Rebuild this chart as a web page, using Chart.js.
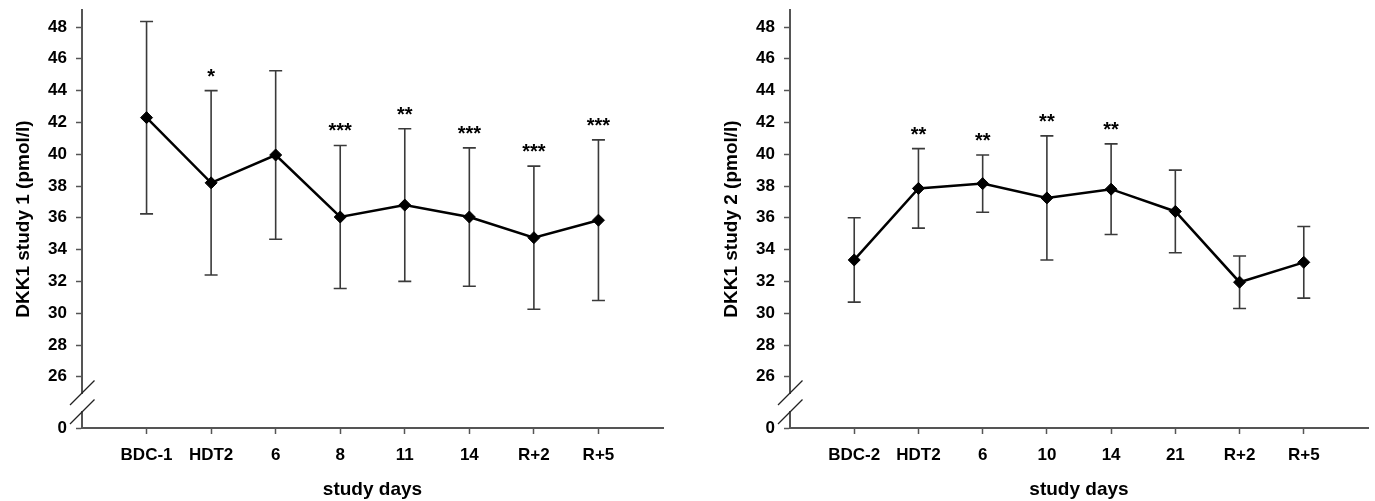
<!DOCTYPE html>
<html>
<head>
<meta charset="utf-8">
<script src="https://cdn.jsdelivr.net/npm/chart.js@4.4.0/dist/chart.umd.min.js"></script>
<style>
  body { margin: 0; background: #fff; }
  #wrap { position: relative; width: 1375px; height: 501px; }
  #c1 { position: absolute; left: 0; top: 0; }
  #c2 { position: absolute; left: 687px; top: 0; }
</style>
</head>
<body>
<div id="wrap">
  <canvas id="c1" width="687" height="501"></canvas>
  <canvas id="c2" width="688" height="501"></canvas>
</div>
<script>
// study 1
const days1 = ["BDC-1", "HDT2", "6", "8", "11", "14", "R+2", "R+5"];
const mean1 = [42.3, 38.2, 39.95, 36.05, 36.8, 36.05, 34.75, 35.85];
const sd1 = [6.05, 5.8, 5.3, 4.5, 4.8, 4.35, 4.5, 5.05];
const stars1 = ["", "*", "", "***", "**", "***", "***", "***"];

// study 2
const days2 = ["BDC-2", "HDT2", "6", "10", "14", "21", "R+2", "R+5"];
const mean2 = [33.35, 37.85, 38.15, 37.25, 37.8, 36.4, 31.95, 33.2];
const sd2 = [2.65, 2.5, 1.8, 3.9, 2.85, 2.6, 1.65, 2.25];
const stars2 = ["", "**", "**", "**", "**", "", "", ""];

const yTicks = [26, 28, 30, 32, 34, 36, 38, 40, 42, 44, 46, 48];
const breakLabel = "0";
const Y_MIN = 22.78;   // where the broken axis shows "0"
const Y_MAX = 49.07;

const FONT = "'Liberation Sans', Arial, sans-serif";
const AXIS_COL = "#555";

// error bars + stars, drawn with the chart's own scales
const errorBars = {
  id: "errorBars",
  beforeDatasetsDraw(chart, args, opts) {
    const { ctx, scales: { x, y } } = chart;
    ctx.save();
    ctx.strokeStyle = "#3a3a3a";
    ctx.lineWidth = 1.6;
    opts.mean.forEach((m, i) => {
      const px = x.getPixelForValue(i + 1);
      const top = y.getPixelForValue(m + opts.sd[i]);
      const bot = y.getPixelForValue(m - opts.sd[i]);
      ctx.beginPath();
      ctx.moveTo(px, top); ctx.lineTo(px, bot);
      ctx.moveTo(px - 6.5, top); ctx.lineTo(px + 6.5, top);
      ctx.moveTo(px - 6.5, bot); ctx.lineTo(px + 6.5, bot);
      ctx.stroke();
    });
    ctx.restore();
  },
  afterDatasetsDraw(chart, args, opts) {
    const { ctx, scales: { x, y } } = chart;
    ctx.save();
    ctx.font = "bold 20px " + FONT;
    ctx.fillStyle = "#000";
    ctx.textAlign = "center";
    ctx.textBaseline = "alphabetic";
    opts.stars.forEach((s, i) => {
      if (!s) return;
      const px = x.getPixelForValue(i + 1);
      const top = y.getPixelForValue(opts.mean[i] + opts.sd[i]);
      ctx.fillText(s, px, top - 8);
    });
    ctx.restore();
  }
};

// the // break on the y axis between 0 and 26
const axisBreak = {
  id: "axisBreak",
  afterDraw(chart) {
    const { ctx, scales: { x, y } } = chart;
    const ax = x.left;
    const bottom = y.bottom;
    const c1 = bottom - 35, c2 = bottom - 16;
    ctx.save();
    ctx.fillStyle = "#fff";
    ctx.fillRect(ax - 2, c1 + 1, 4, c2 - c1 - 2);
    ctx.strokeStyle = "#222";
    ctx.lineWidth = 1.3;
    [c1, c2].forEach(c => {
      ctx.beginPath();
      ctx.moveTo(ax - 12, c + 12);
      ctx.lineTo(ax + 12.5, c - 12.5);
      ctx.stroke();
    });
    ctx.restore();
  }
};

function makeChart(id, days, mean, sd, stars, title, yWidth, rightPad) {
  new Chart(document.getElementById(id), {
    type: "line",
    data: {
      datasets: [{
        data: mean.map((v, i) => ({ x: i + 1, y: v })),
        borderColor: "#000",
        borderWidth: 2.5,
        backgroundColor: "#000",
        pointStyle: "rectRot",
        pointRadius: 6,
        pointBorderWidth: 1,
        tension: 0
      }]
    },
    options: {
      responsive: false,
      animation: false,
      layout: { padding: { top: 0, right: rightPad, left: 0, bottom: 0 } },
      plugins: {
        legend: { display: false },
        tooltip: { enabled: false },
        errorBars: { mean, sd, stars }
      },
      scales: {
        x: {
          type: "linear",
          min: 0,
          max: days.length + 1,
          afterBuildTicks: s => { s.ticks = days.map((d, i) => ({ value: i + 1 })); },
          afterFit: s => { s.height = 73; },
          ticks: {
            autoSkip: false,
            maxRotation: 0,
            padding: 11,
            color: "#000",
            font: { family: FONT, size: 17, weight: "bold" },
            callback: v => days[v - 1]
          },
          grid: { drawOnChartArea: false, tickLength: 6, tickColor: AXIS_COL, tickWidth: 1.5 },
          border: { color: AXIS_COL, width: 2 },
          title: {
            display: true,
            text: "study days",
            color: "#000",
            font: { family: FONT, size: 19, weight: "bold" },
            padding: { top: 0, bottom: 0 }
          }
        },
        y: {
          min: Y_MIN,
          max: Y_MAX,
          afterBuildTicks: s => { s.ticks = [{ value: Y_MIN }].concat(yTicks.map(v => ({ value: v }))); },
          // fixed axis box; top of the axis line sits 10px below the canvas edge
          afterFit: s => { s.width = yWidth; s.paddingTop = 10; s.paddingBottom = 10; },
          ticks: {
            autoSkip: false,
            padding: 9,
            color: "#000",
            font: { family: FONT, size: 17, weight: "bold" },
            callback: v => (v === Y_MIN ? breakLabel : String(v))
          },
          grid: { drawOnChartArea: false, tickLength: 6, tickColor: AXIS_COL, tickWidth: 1.5 },
          border: { color: AXIS_COL, width: 2 },
          title: {
            display: true,
            text: title,
            color: "#000",
            font: { family: FONT, size: 19, weight: "bold" },
            padding: { top: 12.6 + yWidth - 82, bottom: 0 }
          }
        }
      }
    },
    plugins: [errorBars, axisBreak]
  });
}

makeChart("c1", days1, mean1, sd1, stars1, "DKK1 study 1 (pmol/l)", 82, 24);
makeChart("c2", days2, mean2, sd2, stars2, "DKK1 study 2 (pmol/l)", 103, 5);
</script>
</body>
</html>
